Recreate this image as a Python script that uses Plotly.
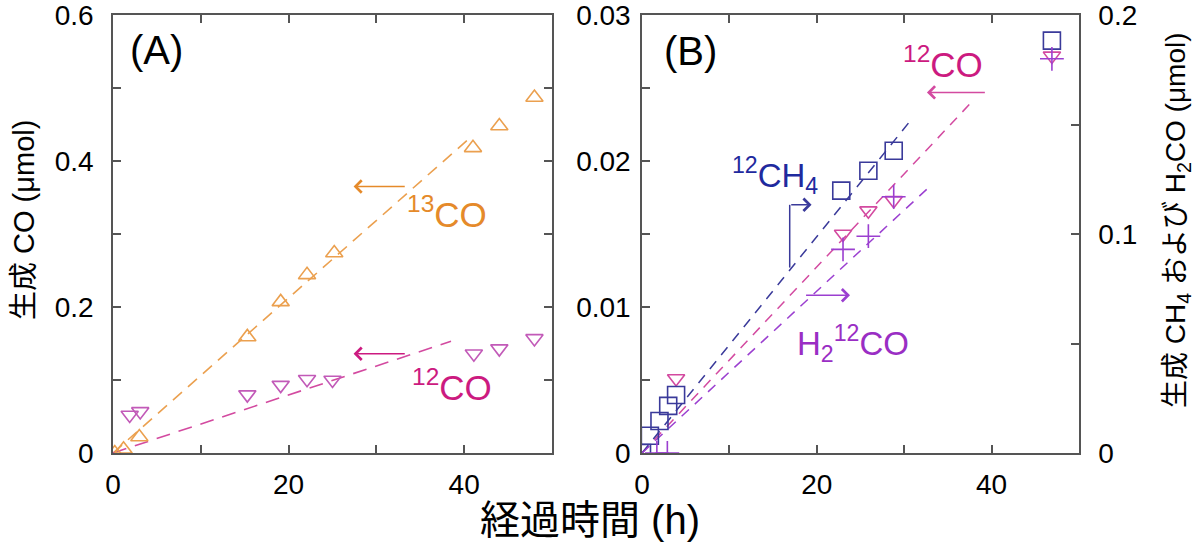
import plotly.graph_objects as go

# ---- panel (A): CO produced (left axis, umol) vs elapsed time (h)
a13_t = [0.2, 1.2, 3.0, 15.3, 19.1, 22.1, 25.2, 41.0, 44.0, 48.0]
a13_co = [0.0, 0.005, 0.022, 0.159, 0.207, 0.244, 0.274, 0.418, 0.448, 0.487]
a12_t = [1.9, 3.1, 15.3, 19.1, 22.1, 25.0, 41.1, 44.0, 48.0]
a12_co = [0.052, 0.057, 0.080, 0.093, 0.101, 0.100, 0.136, 0.143, 0.157]
a13_fit_t = [0, 40.4]
a13_fit = [0, 0.429]
a12_fit_t = [0, 38.5]
a12_fit = [0, 0.153]

# ---- panel (B)
b_ch4_t = [0.0, 0.9, 2.0, 3.0, 3.9, 22.8, 25.9, 28.8, 46.9]
b_ch4 = [0.0, 0.0079, 0.0146, 0.0215, 0.0265, 0.1198, 0.1289, 0.138, 0.1883]   # right axis
b_12co_t = [3.9, 23.0, 25.9, 28.8, 46.9]
b_12co = [0.0051, 0.0150, 0.0166, 0.0173, 0.0272]                              # left axis
b_h2co_t = [1.7, 2.9, 23.0, 25.9, 28.8, 46.9]
b_h2co = [0.0, 0.0, 0.093, 0.099, 0.1170, 0.180]                               # right axis
b_ch4_fit_t = [0, 30.7]
b_ch4_fit = [0, 0.1517]
b_12co_fit_t = [0, 37.5]
b_12co_fit = [0, 0.0239]
b_h2co_fit_t = [0, 32.6]
b_h2co_fit = [0, 0.1205]

# ticks
x_ticks = [0, 10, 20, 30, 40, 50]
x_text = ["0", "", "20", "", "40", ""]
ya_ticks = [0, 0.1, 0.2, 0.3, 0.4, 0.5, 0.6]
ya_text = ["0", "", "0.2", "", "0.4", "", "0.6"]
yb_ticks = [0, 0.005, 0.01, 0.015, 0.02, 0.025, 0.03]
yb_text = ["0", "", "0.01", "", "0.02", "", "0.03"]
yr_ticks = [0, 0.05, 0.1, 0.15, 0.2]
yr_text = ["0", "", "0.1", "", "0.2"]

ORANGE = "#EBA04F"
ORANGE_T = "#E58A2A"
PINK = "#C25AB8"
PINK_T = "#CC1A80"
PINK_B = "#D34AA0"
BLUE = "#3A3A9A"
BLUE_T = "#1F2A9E"
PURPLE = "#9B3FD0"
PURPLE_T = "#9A2EC4"
AX = "#555555"
FONT = "Liberation Sans, Arial, Noto Sans CJK JP, sans-serif"

W, H = 1200, 553


def px(x):
    return x / W


def py(y):
    return 1 - y / H


fig = go.Figure()

# (A)
fig.add_trace(go.Scatter(x=a13_fit_t, y=a13_fit, mode="lines", xaxis="x", yaxis="y",
                         line=dict(color=ORANGE, width=1.6, dash="12px,8px")))
fig.add_trace(go.Scatter(x=a12_fit_t, y=a12_fit, mode="lines", xaxis="x", yaxis="y",
                         line=dict(color=PINK_B, width=1.6, dash="14px,9px")))
fig.add_trace(go.Scatter(x=a13_t, y=a13_co, mode="markers", xaxis="x", yaxis="y",
                         marker=dict(symbol="triangle-up-open", size=15, color=ORANGE,
                                     line=dict(width=1.6, color=ORANGE))))
fig.add_trace(go.Scatter(x=a12_t, y=a12_co, mode="markers", xaxis="x", yaxis="y",
                         marker=dict(symbol="triangle-down-open", size=15, color=PINK,
                                     line=dict(width=1.6, color=PINK))))

# (B)
fig.add_trace(go.Scatter(x=b_ch4_fit_t, y=b_ch4_fit, mode="lines", xaxis="x2", yaxis="y3",
                         line=dict(color=BLUE, width=1.5, dash="10px,8px")))
fig.add_trace(go.Scatter(x=b_12co_fit_t, y=b_12co_fit, mode="lines", xaxis="x2", yaxis="y2",
                         line=dict(color=PINK_B, width=1.5, dash="10px,8px")))
fig.add_trace(go.Scatter(x=b_h2co_fit_t, y=b_h2co_fit, mode="lines", xaxis="x2", yaxis="y3",
                         line=dict(color=PURPLE, width=1.5, dash="10px,8px")))
fig.add_trace(go.Scatter(x=b_ch4_t, y=b_ch4, mode="markers", xaxis="x2", yaxis="y3",
                         marker=dict(symbol="square-open", size=17, color=BLUE,
                                     line=dict(width=1.6, color=BLUE))))
fig.add_trace(go.Scatter(x=b_12co_t, y=b_12co, mode="markers", xaxis="x2", yaxis="y2",
                         marker=dict(symbol="triangle-down-open", size=15, color=PINK_B,
                                     line=dict(width=1.6, color=PINK_B))))
fig.add_trace(go.Scatter(x=b_h2co_t, y=b_h2co, mode="markers", xaxis="x2", yaxis="y3",
                         marker=dict(symbol="cross-thin", size=17, color=PURPLE,
                                     line=dict(width=1.6, color=PURPLE))))

axis_common = dict(showline=True, linecolor=AX, linewidth=1.5, ticks="inside", ticklen=8,
                   tickwidth=1.5, tickcolor=AX, showgrid=False, zeroline=False,
                   ticklabeloverflow="allow",
                   tickfont=dict(family=FONT, size=28, color="black"))

ydom = [py(453), py(15)]
fig.update_layout(
    width=W, height=H, showlegend=False,
    paper_bgcolor="white", plot_bgcolor="white",
    margin=dict(l=0, r=0, t=0, b=0, autoexpand=False),
    font=dict(family=FONT),
    xaxis=dict(domain=[px(113), px(552)], range=[0, 50], anchor="y", mirror="ticks",
               tickvals=x_ticks, ticktext=x_text, ticklabelstandoff=6, **axis_common),
    yaxis=dict(domain=ydom, range=[0, 0.6], anchor="x", mirror="ticks",
               tickvals=ya_ticks, ticktext=ya_text, ticklabelstandoff=12, **axis_common),
    xaxis2=dict(domain=[px(642), px(1079)], range=[0, 50], anchor="y2", mirror="ticks",
                tickvals=x_ticks, ticktext=x_text, ticklabelstandoff=6, **axis_common),
    yaxis2=dict(domain=ydom, range=[0, 0.03], anchor="x2",
                tickvals=yb_ticks, ticktext=yb_text, ticklabelstandoff=4, **axis_common),
    yaxis3=dict(domain=ydom, range=[0, 0.2], anchor="x2", overlaying="y2",
                side="right", tickvals=yr_ticks, ticktext=yr_text, ticklabelstandoff=12,
                **axis_common),
)


def label(text, x, y, color, size=35, xref="x", yref="y", angle=0):
    fig.add_annotation(text=text, x=x, y=y, xref=xref, yref=yref, showarrow=False,
                       xanchor="center", yanchor="middle", textangle=angle,
                       font=dict(family=FONT, size=size, color=color))


def arrow(x0, x1, y, color, xref="x", yref="y"):
    fig.add_annotation(x=x1, y=y, ax=x0, ay=y, xref=xref, yref=yref, axref=xref, ayref=yref,
                       text="", showarrow=True, arrowhead=4, arrowsize=1.6, arrowwidth=1.5,
                       arrowcolor=color)


# (A) annotations
label("(A)", 5.0, 0.552, "black", size=40)
arrow(33.4, 27.4, 0.365, ORANGE_T)
label("<sup>13</sup>CO", 38.0, 0.330, ORANGE_T)
arrow(33.4, 27.4, 0.136, PINK_T)
label("<sup>12</sup>CO", 38.6, 0.093, PINK_T)

# (B) annotations
label("(B)", 5.6, 0.0275, "black", size=40, xref="x2", yref="y2")
label("<sup>12</sup>CO", 34.4, 0.0268, PINK_T, xref="x2", yref="y2")
arrow(39.4, 32.6, 0.0247, PINK_B, xref="x2", yref="y2")
label("<sup>12</sup>CH<sub>4</sub>", 15.2, 0.0190, BLUE_T, size=33, xref="x2", yref="y2")
fig.add_shape(type="line", x0=16.9, x1=16.9, y0=0.0127, y1=0.0170, xref="x2", yref="y2",
              line=dict(color=BLUE, width=1.5))
arrow(16.9, 19.4, 0.0170, BLUE, xref="x2", yref="y2")
arrow(18.6, 23.8, 0.0108, PURPLE, xref="x2", yref="y2")
label("H<sub>2</sub><sup>12</sup>CO", 24.1, 0.0075, PURPLE_T, size=33, xref="x2", yref="y2")

# axis titles
label("経過時間 (h)", px(590), py(520), "black", size=40, xref="paper", yref="paper")
label("生成 CO (μmol)", px(24), py(220), "black", size=29, xref="paper", yref="paper",
      angle=-90)
label("生成 CH<sub>4</sub> および H<sub>2</sub>CO (μmol)", px(1177), py(220), "black",
      size=28, xref="paper", yref="paper", angle=-90)

# drop the browser's default 8px body margin so the figure sits at the page corner
fig.write_html("out.html", config={"displayModeBar": False},
               post_script="document.body.style.margin = '0';")
